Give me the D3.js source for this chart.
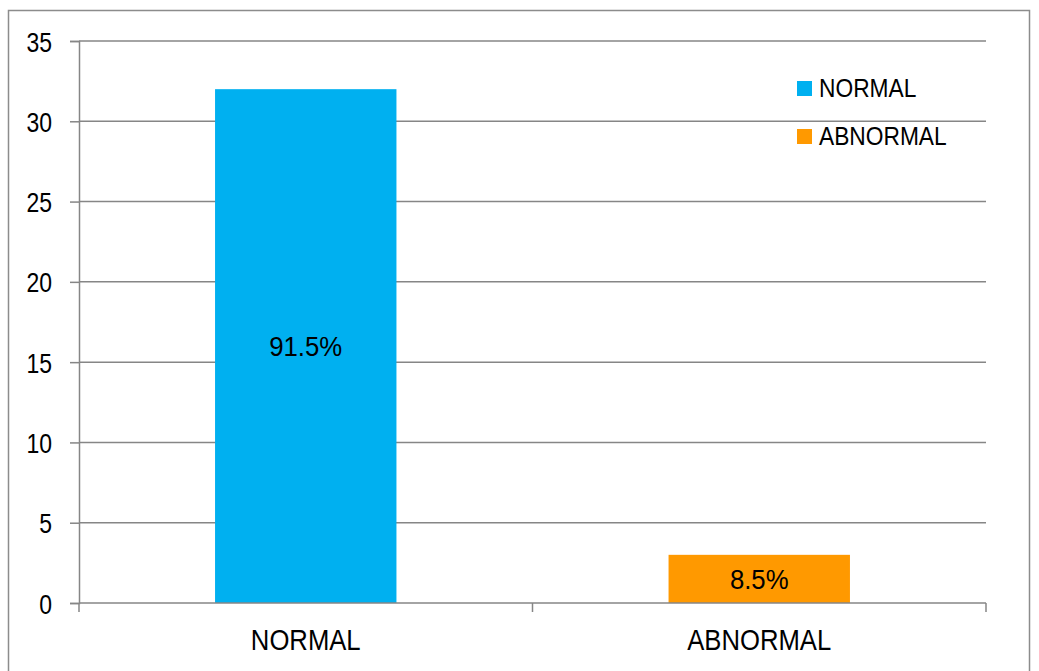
<!DOCTYPE html>
<html>
<head>
<meta charset="utf-8">
<script src="https://cdn.jsdelivr.net/npm/d3@7"></script>
<style>
html,body{margin:0;padding:0;background:#fff;}
svg{display:block;font-family:"Liberation Sans",Arial,sans-serif;}
</style>
</head>
<body>
<svg id="chart" width="1039" height="671"></svg>
<script>
const categories = ["NORMAL", "ABNORMAL"];
const values = [32, 3];
const percentLabels = ["91.5%", "8.5%"];
const colors = ["#00B0F0", "#FF9900"];
const yTicks = [0, 5, 10, 15, 20, 25, 30, 35];

const svg = d3.select("#chart");
const margin = {left: 79, right: 53, top: 41, bottom: 68};
const W = 1039, H = 671;

function squeeze(sel, f) {
  sel.each(function () {
    const w = this.getComputedTextLength();
    this.setAttribute("textLength", w * f);
    this.setAttribute("lengthAdjust", "spacingAndGlyphs");
  });
}

// outer frame
svg.append("rect").attr("x", 8.5).attr("y", 10.5).attr("width", 1021).attr("height", 700)
  .attr("fill", "none").attr("stroke", "#8c8c8c").attr("stroke-width", 1.5);

const x = d3.scaleBand().domain(categories).range([margin.left, W - margin.right]).paddingInner(0.6).paddingOuter(0.3);
const y = d3.scaleLinear().domain([0, 35]).range([H - margin.bottom, margin.top]);

const gridColor = "#868686";

// gridlines
svg.append("g").selectAll("line").data(yTicks.filter(d => d > 0)).join("line")
  .attr("x1", margin.left).attr("x2", W - margin.right)
  .attr("y1", d => y(d)).attr("y2", d => y(d))
  .attr("stroke", gridColor).attr("stroke-width", 1.5);

// y axis
const yAxis = svg.append("g").attr("transform", `translate(${margin.left},0)`)
  .call(d3.axisLeft(y).tickValues(yTicks).tickSize(9).tickPadding(18).tickFormat(d3.format("d")));
yAxis.attr("font-family", null);
yAxis.select(".domain").attr("stroke", gridColor).attr("stroke-width", 1.5);
yAxis.selectAll(".tick line").attr("stroke", gridColor).attr("stroke-width", 1.5);
yAxis.selectAll(".tick text").attr("font-size", 28).attr("fill", "#000").attr("dy", "0.36em");
squeeze(yAxis.selectAll(".tick text"), 0.82);

// bars
svg.append("g").selectAll("rect").data(categories).join("rect")
  .attr("x", d => x(d)).attr("width", x.bandwidth())
  .attr("y", (d, i) => y(values[i])).attr("height", (d, i) => y(0) - y(values[i]))
  .attr("fill", (d, i) => colors[i]);

// x axis
const step = (W - margin.right - margin.left) / categories.length;
const xg = svg.append("g");
xg.append("line").attr("x1", margin.left).attr("x2", W - margin.right)
  .attr("y1", y(0)).attr("y2", y(0)).attr("stroke", gridColor).attr("stroke-width", 1.5);
xg.selectAll("line.tk").data(d3.range(categories.length + 1)).join("line").attr("class", "tk")
  .attr("x1", i => margin.left + i * step).attr("x2", i => margin.left + i * step)
  .attr("y1", y(0)).attr("y2", y(0) + 9).attr("stroke", gridColor).attr("stroke-width", 1.5);
const catText = xg.selectAll("text").data(categories).join("text")
  .attr("x", d => x(d) + x.bandwidth() / 2).attr("y", 650)
  .attr("text-anchor", "middle").attr("font-size", 29)
  .text(d => d);
squeeze(catText, 0.885);

// data labels
const dl = svg.append("g").selectAll("text").data(categories).join("text")
  .attr("x", d => x(d) + x.bandwidth() / 2)
  .attr("y", (d, i) => (y(values[i]) + y(0)) / 2)
  .attr("dy", "0.36em").attr("text-anchor", "middle").attr("font-size", 28)
  .text((d, i) => percentLabels[i]);
squeeze(dl, 0.92);

// legend
const lg = svg.append("g").attr("transform", "translate(797,81)");
const items = lg.selectAll("g").data(categories).join("g")
  .attr("transform", (d, i) => `translate(0,${i * 48})`);
items.append("rect").attr("width", 15).attr("height", 15).attr("fill", (d, i) => colors[i]);
const lt = items.append("text").attr("x", 22).attr("y", 15.5).attr("font-size", 25).text(d => d);
squeeze(lt, 0.91);
</script>
</body>
</html>
